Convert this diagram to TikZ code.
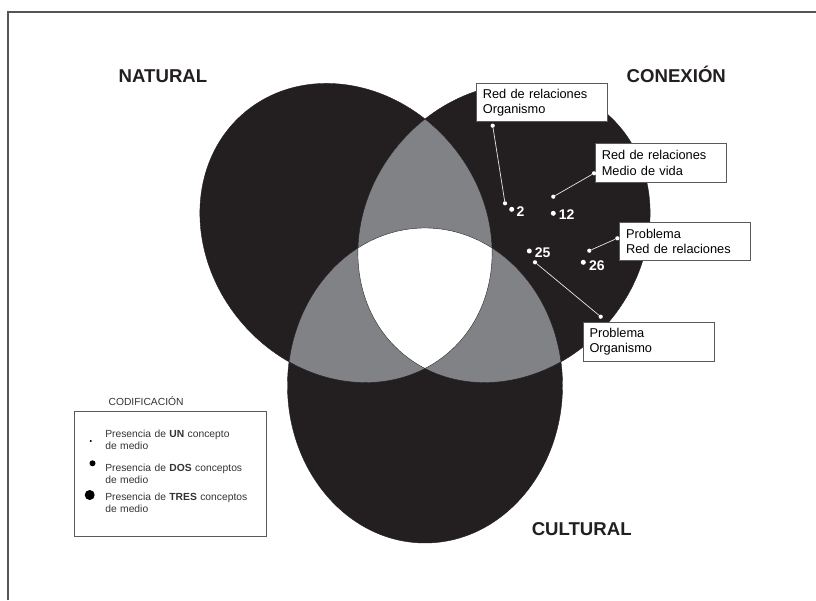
\documentclass[tikz,border=0pt]{standalone}
\usepackage{fontspec}
\setmainfont{Liberation Sans}
\usetikzlibrary{positioning, calc}

\definecolor{vennblack}{HTML}{231F20}
\definecolor{venngray}{HTML}{808285}
\definecolor{framegray}{HTML}{555555}
\definecolor{boxgray}{HTML}{5A5A5A}
\definecolor{leadgray}{HTML}{E6E6E6}
\definecolor{legtextcol}{HTML}{333333}

\newcommand{\titlefont}{\fontsize{18.6}{22}\selectfont\bfseries}
\newcommand{\boxfont}{\fontsize{12.8}{15.5}\selectfont}
\newcommand{\numfont}{\fontsize{14}{16}\selectfont\bfseries}
\newcommand{\legfont}{\fontsize{10.3}{12.2}\selectfont}

\tikzset{
  vennradii/.style={x radius=137.5pt, y radius=157.5pt},
  natell/.style={rotate around={40:(natc)}},
  conell/.style={rotate around={-40:(conc)}},
  settitle/.style={font=\titlefont, text=vennblack, anchor=base, inner sep=0pt},
  callout/.style={draw=boxgray, fill=white, line width=0.6pt, rectangle, text width=118pt,
    inner xsep=6.5pt, inner ysep=0pt, minimum height=38.5pt, align=left, font=\boxfont, anchor=north west},
  enddot/.style={circle, fill=white, inner sep=0pt, minimum size=4.2pt},
  datadot/.style={circle, fill=white, inner sep=0pt, minimum size=5pt},
  numlbl/.style={font=\numfont, text=white, anchor=base west, inner sep=0pt},
  leader/.style={draw=leadgray, line width=0.7pt},
  legtext/.style={font=\legfont, text=legtextcol, text width=150pt, align=left, anchor=base west, inner sep=0pt},
  legdot/.style={circle, fill=black, inner sep=0pt}
}

\begin{document}
\begin{tikzpicture}[x=1pt, y=1pt, line width=0.6pt]
\useasboundingbox (0,0) rectangle (816,600);

% Frame
\draw[framegray, line width=1.4pt] (8,0) -- (8,588) -- (816,588);

% Centres of the three sets
\coordinate (natc) at (346,367);
\coordinate (conc) at (504,367);
\coordinate (culc) at (425,214.5);

% Sets
\fill[vennblack, natell] (natc) ellipse [vennradii];
\fill[vennblack, conell] (conc) ellipse [vennradii];
\fill[vennblack] (culc) ellipse [vennradii];

% Two-set overlaps
\begin{scope}
  \clip[natell] (natc) ellipse [vennradii];
  \fill[venngray, conell] (conc) ellipse [vennradii];
  \fill[venngray] (culc) ellipse [vennradii];
\end{scope}
\begin{scope}
  \clip[conell] (conc) ellipse [vennradii];
  \fill[venngray] (culc) ellipse [vennradii];
\end{scope}

% Three-set overlap
\begin{scope}
  \clip[natell] (natc) ellipse [vennradii];
  \clip[conell] (conc) ellipse [vennradii];
  \fill[white] (culc) ellipse [vennradii];
\end{scope}

\draw[vennblack, line width=0.4pt, natell] (natc) ellipse [vennradii];
\draw[vennblack, line width=0.4pt, conell] (conc) ellipse [vennradii];
\draw[vennblack, line width=0.4pt] (culc) ellipse [vennradii];

% Set names
\node[settitle] (natural) at (163,517.7) {NATURAL};
\node[settitle] (conexion) at (676.3,517.3) {CONEXIÓN};
\node[settitle] (cultural) at (581.7,65) {CULTURAL};

% Labelled boxes
\node[callout] (relorg) at (476,517) {Red de relaciones\\Organismo};
\node[callout] (relvida) at (595,456.7) {Red de relaciones\\Medio de vida};
\node[callout] (probrel) at (619.3,378.3) {Problema\\Red de relaciones};
\node[callout] (proborg) at (582.7,277.7) {Problema\\Organismo};

% Data points
\node[datadot] (d2) at (511.7,390.7) {};
\node[datadot] (d12) at (553.3,386.7) {};
\node[datadot] (d25) at (529.3,349) {};
\node[datadot] (d26) at (583.3,337.7) {};
\node[numlbl] (n2) at ([shift={(4.5,-7.6)}]d2.center) {2};
\node[numlbl] (n12) at ([shift={(5.2,-6.4)}]d12.center) {12};
\node[numlbl] (n25) at ([shift={(5.2,-6.5)}]d25.center) {25};
\node[numlbl] (n26) at ([shift={(5.5,-8)}]d26.center) {26};

% Leaders
\node[enddot] (l1a) at (492.7,474.3) {};
\node[enddot] (l1b) at (505,396.7) {};
\node[enddot] (l2a) at (594,426.7) {};
\node[enddot] (l2b) at (553.3,403.3) {};
\node[enddot] (l3a) at (617.3,361.7) {};
\node[enddot] (l3b) at (589.3,349.3) {};
\node[enddot] (l4a) at (535,337.7) {};
\node[enddot] (l4b) at (600.7,283.3) {};
\draw[leader] (l1a) -- (l1b);
\draw[leader] (l2a) -- (l2b);
\draw[leader] (l3a) -- (l3b);
\draw[leader] (l4a) -- (l4b);

% Coding legend
\node[draw=boxgray, line width=0.6pt, minimum width=192pt, minimum height=125pt] (codif) at (170,125.8) {};
\node[font=\legfont, text=legtextcol, anchor=base west, inner sep=0pt] (codiftitle) at (108.3,194) {CODIFICACIÓN};
\node[legdot, minimum size=2.2pt] (one) at (90.7,159) {};
\node[legdot, minimum size=6pt] (two) at (92.5,136.7) {};
\node[legdot, minimum size=10pt] (three) at (89.7,105) {};
\node[legtext] (onetext) at (105,163) {Presencia de \textbf{UN} concepto\\de medio};
\node[legtext] (twotext) at (105,129) {Presencia de \textbf{DOS} conceptos\\de medio};
\node[legtext] (threetext) at (105,99.6) {Presencia de \textbf{TRES} conceptos\\de medio};
\end{tikzpicture}
\end{document}
